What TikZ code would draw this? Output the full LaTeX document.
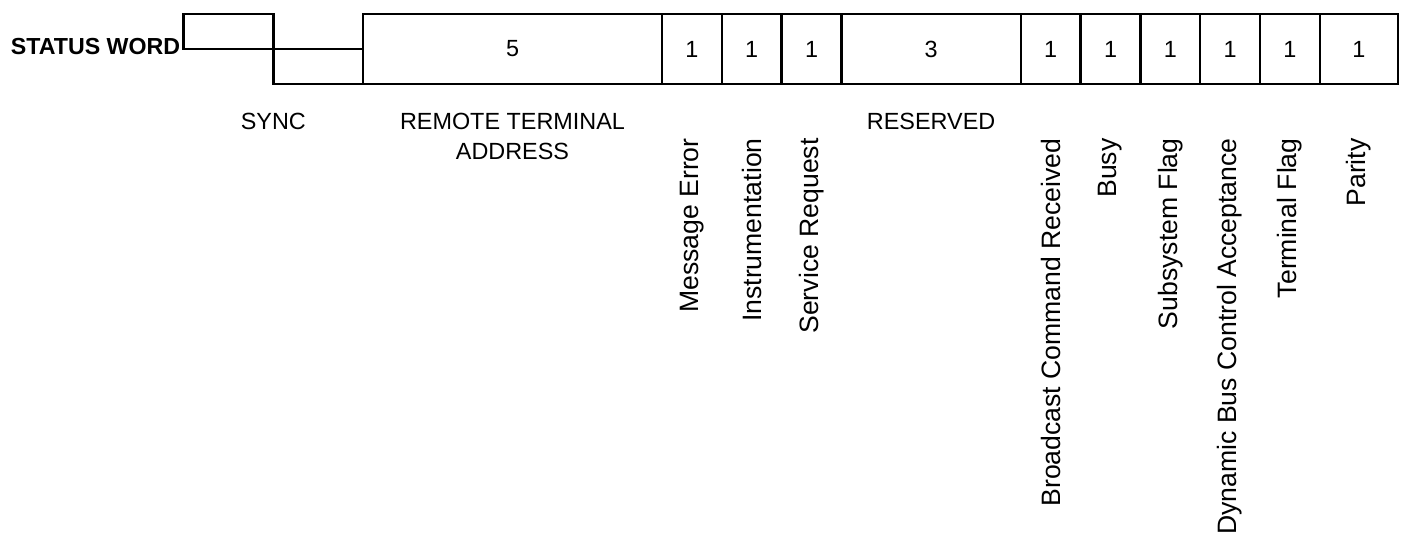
\documentclass[tikz,border=0pt]{standalone}
\usepackage{fontspec}
\setmainfont{Liberation Sans}
\usepackage{tikz}
\usetikzlibrary{positioning}

\tikzset{
  field/.style={draw, line width=1.2pt, outer sep=0pt, inner sep=0pt,
    minimum height=35pt, font=\fontsize{11.7}{14}\selectfont},
  bits/.style={minimum width=#1*29.9pt},
  hlabel/.style={inner sep=0pt, align=center,
    font=\fontsize{11.7}{15}\selectfont},
  vlabel/.style={inner sep=0pt, rotate=90, anchor=east,
    font=\fontsize{13.3}{15}\selectfont}
}

\begin{document}
\begin{tikzpicture}[x=0.5pt, y=-0.5pt]
  \useasboundingbox (0,0) rectangle (1408,539);
  % the word itself
  \node[field, bits=5, anchor=north west] (rta) at (363,14) {5};
  \node[field, bits=1, right=0pt of rta] (me) {1};
  \node[field, bits=1, right=0pt of me] (instr) {1};
  \node[field, bits=1, right=0pt of instr] (sr) {1};
  \node[field, bits=3, right=0pt of sr] (rsvd) {3};
  \node[field, bits=1, right=0pt of rsvd] (bcr) {1};
  \node[field, bits=1, right=0pt of bcr] (busy) {1};
  \node[field, bits=1, right=0pt of busy] (ssf) {1};
  \node[field, bits=1, right=0pt of ssf] (dbca) {1};
  \node[field, bits=1, right=0pt of dbca] (tf) {1};
  \node[field, minimum width=39pt, right=0pt of tf] (par) {1};
  % sync waveform
  \node[field, bits=1.5, minimum height=17.5pt, anchor=south east] (syncLo) at (rta.south west) {};
  \node[field, bits=1.5, minimum height=17.5pt, anchor=south east] (syncHi) at (syncLo.north west) {};
  \node[anchor=base east, inner sep=0pt, font=\fontsize{11.6}{14}\selectfont\bfseries]
    (title) at ([xshift=-1.5pt, yshift=-3pt]syncHi.south west) {STATUS WORD};
  % field names
  \node[hlabel, below=14.5pt of syncLo.south west] (lbl-sync) {SYNC};
  \node[hlabel, below=14.5pt of rta] (lbl-rta) {REMOTE TERMINAL\\ADDRESS};
  \node[hlabel, below=14.5pt of rsvd] (lbl-rsvd) {RESERVED};
  \foreach \f/\t in {me/Message Error, instr/Instrumentation, sr/Service Request,
      bcr/Broadcast Command Received, busy/Busy, ssf/Subsystem Flag,
      dbca/Dynamic Bus Control Acceptance, tf/Terminal Flag, par/Parity}
    \node[vlabel] (lbl-\f) at ([yshift=-27pt]\f.south) {\t};
\end{tikzpicture}
\end{document}
